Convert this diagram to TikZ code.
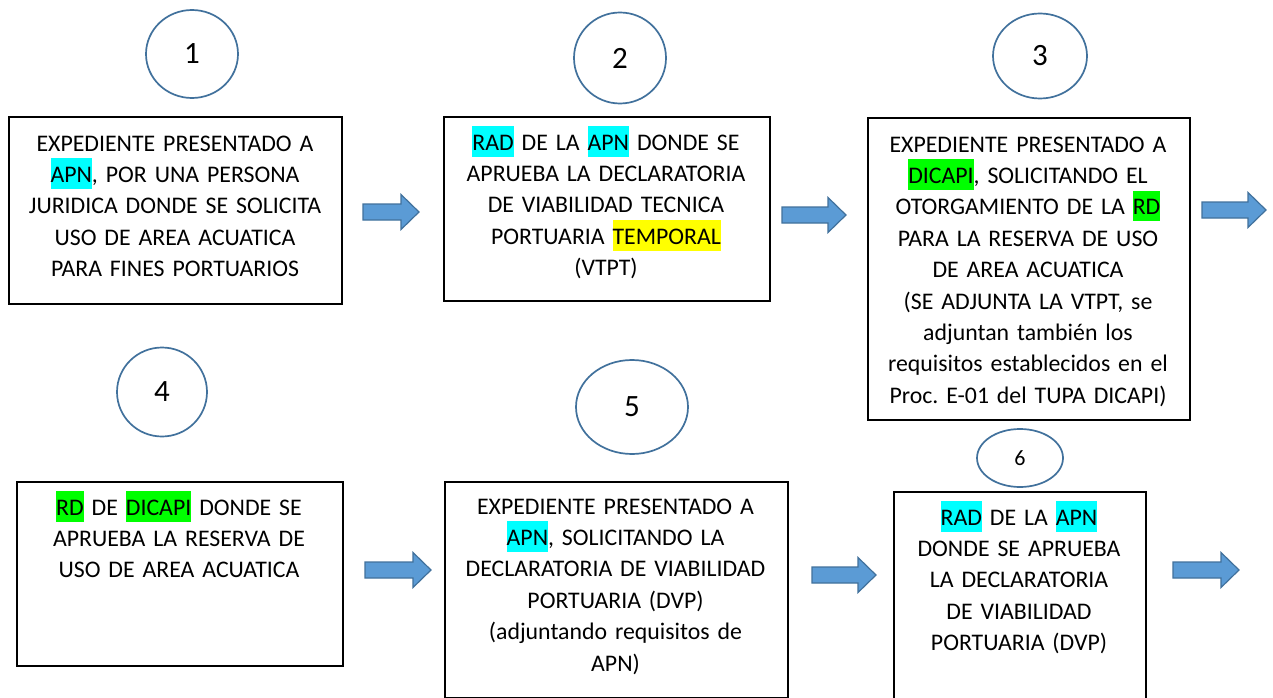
\documentclass[tikz,border=0pt]{standalone}
\usepackage{fontspec}
\setmainfont{Carlito}
\usetikzlibrary{shapes.geometric}
\frenchspacing
\definecolor{arrfill}{HTML}{5B9BD5}
\definecolor{arrline}{HTML}{41719C}
\definecolor{hcyan}{HTML}{00FFFF}
\definecolor{hgreen}{HTML}{00FF00}
\definecolor{hyellow}{HTML}{FFFF00}
\newcommand\hlw[2]{{\setlength{\fboxsep}{0pt}\colorbox{#1}{\rule[-6.5pt]{0pt}{30.5pt}#2}}}
\newcommand\barrow[3]{\draw[arr] (#1,{#3-8}) -- ({#2-18},{#3-8}) -- ({#2-18},{#3-17.5}) -- (#2,#3) -- ({#2-18},{#3+17.5}) -- ({#2-18},{#3+8}) -- (#1,{#3+8}) -- cycle;}
\tikzset{
  box/.style={draw=black, line width=1.6pt, fill=white, inner sep=0pt, anchor=north west},
  txt/.style={inner sep=0pt, align=center, anchor=base, font=\fontsize{23.8}{31.4}\selectfont\frenchspacing},
  num/.style={ellipse, draw=arrline, line width=1.7pt, fill=white, inner sep=0pt, font=\fontsize{31}{36}\selectfont},
  arr/.style={fill=arrfill, draw=arrline, line width=1.2pt, line join=miter}
}
\begin{document}
\begin{tikzpicture}[x=1pt,y=-1pt]
\useasboundingbox (0,0) rectangle (1273,698);
\clip (0,0) rectangle (1273,698);
\fill[white] (0,0) rectangle (1273,698);
% circles
\node[num, minimum width=92pt, minimum height=88pt] (c1) at (192,54) {1};
\node[num, minimum width=92pt, minimum height=91pt] (c2) at (620,58) {2};
\node[num, minimum width=94pt, minimum height=85pt] (c3) at (1040,56) {3};
\node[num, minimum width=90pt, minimum height=89pt] (c4) at (162,392) {4};
\node[num, minimum width=112pt, minimum height=94pt] (c5) at (632,407) {5};
\node[num, minimum width=86pt, minimum height=58pt, font=\fontsize{22}{26}\selectfont] (c6) at (1020,458) {6};
% boxes
\node[box, minimum width=333pt, minimum height=187pt] (b1) at (8,116) {};
\node[box, minimum width=326pt, minimum height=184pt] (b2) at (443,116) {};
\node[box, minimum width=322pt, minimum height=302pt] (b3) at (867,117) {};
\node[box, minimum width=326pt, minimum height=184pt] (b4) at (16,481) {};
\node[box, minimum width=343pt, minimum height=216pt] (b5) at (444,481) {};
\node[box, minimum width=252pt, minimum height=230pt] (b6) at (893,491) {};
% texts
\node[txt, text width=330pt] (t1) at (175,151) {EXPEDIENTE PRESENTADO A\\ \hlw{hcyan}{APN}, POR UNA PERSONA\\ JURIDICA DONDE SE SOLICITA\\ USO DE AREA ACUATICA\\ PARA FINES PORTUARIOS};
\node[txt, text width=320pt] (t2) at (606,150) {\hlw{hcyan}{RAD} DE LA \hlw{hcyan}{APN} DONDE SE\\ APRUEBA LA DECLARATORIA\\ DE VIABILIDAD TECNICA\\ PORTUARIA \hlw{hyellow}{TEMPORAL}\\ (VTPT)};
\node[txt, text width=320pt] (t3) at (1028,152) {EXPEDIENTE PRESENTADO A\\ \hlw{hgreen}{DICAPI}, SOLICITANDO EL\\ OTORGAMIENTO DE LA \hlw{hgreen}{RD}\\ PARA LA RESERVA DE USO\\ DE AREA ACUATICA\\ (SE ADJUNTA LA VTPT, se\\ adjuntan también los\\ requisitos establecidos en el\\ Proc. E-01 del TUPA DICAPI)};
\node[txt, text width=320pt] (t4) at (179,515) {\hlw{hgreen}{RD} DE \hlw{hgreen}{DICAPI} DONDE SE\\ APRUEBA LA RESERVA DE\\ USO DE AREA ACUATICA};
\node[txt, text width=335pt] (t5) at (615.5,514) {EXPEDIENTE PRESENTADO A\\ \hlw{hcyan}{APN}, SOLICITANDO LA\\ DECLARATORIA DE VIABILIDAD\\ PORTUARIA (DVP)\\ (adjuntando requisitos de\\ APN)};
\node[txt, text width=245pt] (t6) at (1019,525) {\hlw{hcyan}{RAD} DE LA \hlw{hcyan}{APN}\\ DONDE SE APRUEBA\\ LA DECLARATORIA\\ DE VIABILIDAD\\ PORTUARIA (DVP)};
% block arrows
\barrow{363}{419}{212}
\barrow{782}{846}{215}
\barrow{1202}{1266}{210}
\barrow{365}{431}{570}
\barrow{812}{876}{575}
\barrow{1173}{1239}{570}
\end{tikzpicture}
\end{document}
